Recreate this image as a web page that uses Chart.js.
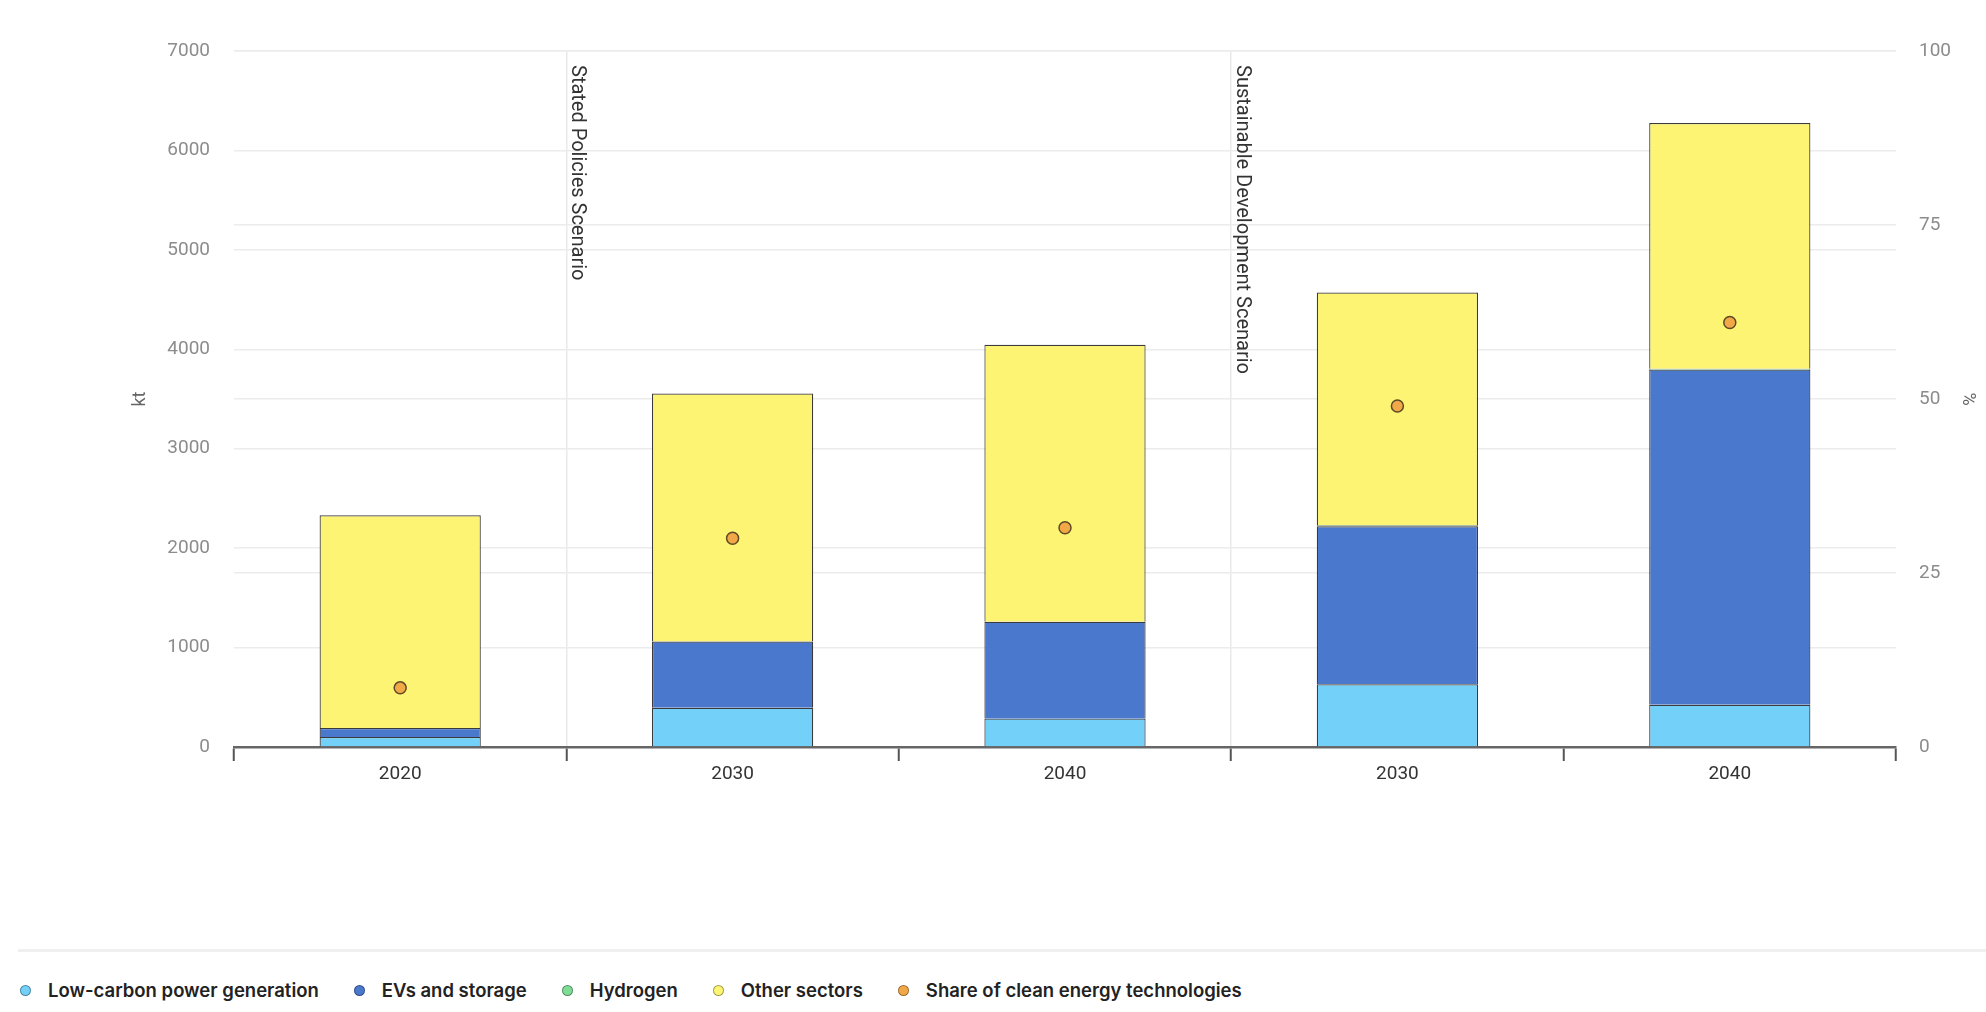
<!DOCTYPE html>
<html>
<head>
<meta charset="utf-8">
<script src="https://cdn.jsdelivr.net/npm/chart.js@4.4.1/dist/chart.umd.min.js"></script>
<style>
  html, body { margin: 0; padding: 0; background: #fff; }
  #wrap { position: relative; width: 1986px; height: 800px; }
  #legend {
    position: absolute; left: 18px; right: 0; top: 949px;
    border-top: 3px solid #efefef; padding: 28px 0 0 2px;
    display: flex; gap: 35px;
    font-family: Inter, Roboto, sans-serif; font-size: 18.5px; font-weight: 600; color: #222;
  }
  #legend .item { display: flex; align-items: center; height: 20px; }
  #legend .dot { width: 11px; height: 11px; border-radius: 50%; margin-right: 17px; box-sizing: border-box; border: 1px solid rgba(0,0,0,0.35); }
</style>
</head>
<body>
<div id="wrap"><canvas id="chart"></canvas></div>
<div id="legend"></div>
<script>
// categories and data (kt, %)
const categories = ["2020", "2030", "2040", "2030", "2040"];
const lowCarbon = [100, 395, 285, 630, 425];
const evsStorage = [90, 665, 975, 1590, 3370];
const hydrogen = [0, 0, 0, 10, 10];
const otherSectors = [2140, 2495, 2785, 2340, 2470];
const shareClean = [8.5, 30, 31.5, 49, 61];

const leftTicks = [0, 1000, 2000, 3000, 4000, 5000, 6000, 7000];
const rightTicks = [0, 25, 50, 75, 100];

// scenario separators: label drawn right of the boundary before category index
const scenarioNames = ["Stated Policies Scenario", "Sustainable Development Scenario"];
const scenarioStart = [1, 3];

const colors = {
  low: "#72D0F9",
  evs: "#4A78CC",
  h2: "#7FDC95",
  other: "#FDF474",
  share: "#F3A848"
};

const barBorder = "rgba(25,25,25,0.85)";

const scenarioLabels = {
  id: "scenarioLabels",
  afterDraw(chart) {
    const xs = chart.scales.x;
    const ctx = chart.ctx;
    ctx.save();
    ctx.fillStyle = "#333";
    ctx.font = "20px Roboto, sans-serif";
    ctx.textAlign = "left";
    ctx.textBaseline = "middle";
    scenarioNames.forEach((name, i) => {
      const b = scenarioStart[i];
      const x = (xs.getPixelForValue(b - 1) + xs.getPixelForValue(b)) / 2;
      ctx.save();
      ctx.translate(x + 11, chart.chartArea.top + 14);
      ctx.rotate(Math.PI / 2);
      ctx.fillText(name, 0, 0);
      ctx.restore();
    });
    ctx.restore();
  }
};

const barDefaults = {
  type: "bar",
  stack: "s",
  yAxisID: "y",
  borderColor: barBorder,
  borderWidth: 1.2,
  barPercentage: 0.485,
  categoryPercentage: 1,
  order: 1
};

const datasets = [
  { ...barDefaults, label: "Low-carbon power generation", data: lowCarbon, backgroundColor: colors.low },
  { ...barDefaults, label: "EVs and storage", data: evsStorage, backgroundColor: colors.evs },
  { ...barDefaults, label: "Hydrogen", data: hydrogen, backgroundColor: colors.h2 },
  { ...barDefaults, label: "Other sectors", data: otherSectors, backgroundColor: colors.other },
  {
    type: "line",
    label: "Share of clean energy technologies",
    data: shareClean,
    yAxisID: "y1",
    showLine: false,
    pointRadius: 6,
    pointBackgroundColor: colors.share,
    pointBorderColor: "#5c4a26",
    pointBorderWidth: 1.5,
    backgroundColor: colors.share,
    order: 0
  }
];

const tickFont = { family: "Roboto, sans-serif", size: 19 };

new Chart(document.getElementById("chart"), {
  type: "bar",
  data: { labels: categories, datasets: datasets },
  options: {
    responsive: true,
    maintainAspectRatio: false,
    animation: false,
    devicePixelRatio: 1,
    layout: { padding: { left: 130, right: 8, top: 51, bottom: 0 } },
    plugins: { legend: { display: false }, tooltip: { enabled: false } },
    scales: {
      x: {
        stacked: true,
        afterFit: s => { s.height = 53; },
        grid: {
          offset: true,
          color: c => scenarioStart.includes(c.index) ? "#e9e9e9" : "rgba(0,0,0,0)",
          lineWidth: 1.5,
          tickColor: "#555",
          tickWidth: 2,
          tickLength: 14
        },
        border: { color: "#666", width: 2.5 },
        ticks: { color: "#333", font: tickFont, padding: 2 }
      },
      y: {
        stacked: true,
        position: "left",
        min: 0,
        max: 7000,
        afterFit: s => { s.width = 104; },
        afterBuildTicks: s => { s.ticks = leftTicks.map(v => ({ value: v })); },
        grid: { color: "#ececec", lineWidth: 1.5, drawTicks: false },
        border: { display: false },
        ticks: { color: "#8c8c8c", font: tickFont, padding: 24, callback: v => String(v) },
        title: { display: true, text: "kt", color: "#666", font: { family: "Roboto, sans-serif", size: 18 }, padding: 0 }
      },
      y1: {
        position: "right",
        min: 0,
        max: 100,
        afterFit: s => { s.width = 82; },
        afterBuildTicks: s => { s.ticks = rightTicks.map(v => ({ value: v })); },
        grid: { color: "#ececec", lineWidth: 1.5, drawTicks: false },
        border: { display: false },
        ticks: { color: "#8c8c8c", font: tickFont, padding: 23, callback: v => String(v) },
        title: { display: true, text: "%", color: "#666", font: { family: "Roboto, sans-serif", size: 18 }, padding: 0 }
      }
    }
  },
  plugins: [scenarioLabels]
});

// legend built from the same datasets
const legend = document.getElementById("legend");
datasets.forEach(d => {
  const item = document.createElement("div");
  item.className = "item";
  const dot = document.createElement("span");
  dot.className = "dot";
  dot.style.background = d.backgroundColor;
  const txt = document.createElement("span");
  txt.textContent = d.label;
  item.appendChild(dot);
  item.appendChild(txt);
  legend.appendChild(item);
});
</script>
</body>
</html>
